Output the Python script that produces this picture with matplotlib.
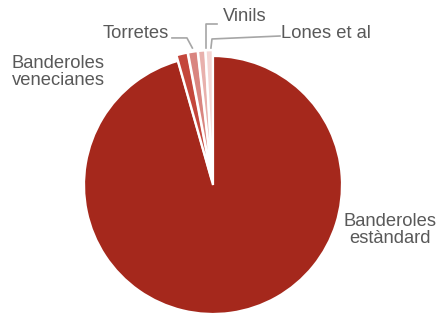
import matplotlib
matplotlib.use("Agg")
import matplotlib.pyplot as plt

# dades del gràfic
categories = ["Banderoles\nestàndard", "Banderoles\nvenecianes", "Torretes", "Vinils", "Lones et al"]
values = [95.6, 1.4, 1.2, 0.9, 0.9]
colors = ["#A5281C", "#C4463B", "#D98580", "#E8B0AC", "#F4D6D4"]
explode = [0, 0.045, 0.045, 0.045, 0.045]

plt.rcParams["font.family"] = ["Liberation Sans", "DejaVu Sans"]
TXT = "#595959"
LINE = "#A6A6A6"

fig = plt.figure(figsize=(4.38, 3.18), dpi=100)
ax = fig.add_axes([0, 0, 1, 1])

ax.pie(values, colors=colors, startangle=90, counterclock=False,
       explode=explode, radius=1.0,
       wedgeprops=dict(edgecolor="white", linewidth=1.6))

# eixos: centre del pastís a (213,185) px, radi 129 px
ax.set_xlim(-213 / 129, (438 - 213) / 129)
ax.set_ylim((185 - 318) / 129, 185 / 129)
ax.set_aspect("auto")
ax.axis("off")

fs = 13.2
ax.text(1.372, -0.349, categories[0], ha="center", va="center", fontsize=fs, color=TXT, linespacing=1.05)
ax.text(-1.202, 0.876, categories[1], ha="center", va="center", fontsize=fs, color=TXT, linespacing=1.05)
ax.text(-0.601, 1.178, categories[2], ha="center", va="center", fontsize=fs, color=TXT)
ax.text(0.248, 1.310, categories[3], ha="center", va="center", fontsize=fs, color=TXT)
ax.text(0.876, 1.178, categories[4], ha="center", va="center", fontsize=fs, color=TXT)

# línies guia
ax.plot([-0.318, -0.202, -0.160], [1.140, 1.140, 1.062], color=LINE, lw=1.2)
ax.plot([0.031, -0.058, -0.058], [1.248, 1.248, 1.062], color=LINE, lw=1.2)
ax.plot([0.519, -0.008, -0.016], [1.155, 1.132, 1.062], color=LINE, lw=1.2)

fig.savefig("out.png", dpi=100)
